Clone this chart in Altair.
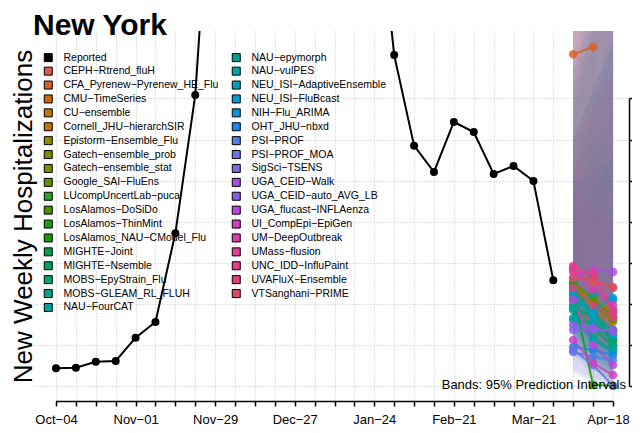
import altair as alt
import pandas as pd

# ---------------- data ----------------
rep_dates = [
    "2025-10-04", "2025-10-11", "2025-10-18", "2025-10-25", "2025-11-01", "2025-11-08",
    "2025-11-15", "2025-11-22", "2025-11-29", "2025-12-06", "2025-12-13", "2025-12-20",
    "2025-12-27", "2026-01-03", "2026-01-10", "2026-01-17", "2026-01-24", "2026-01-31",
    "2026-02-07", "2026-02-14", "2026-02-21", "2026-02-28", "2026-03-07", "2026-03-14",
    "2026-03-21", "2026-03-28",
]
rep_values = [
    218, 225, 298, 307, 590, 781, 1860, 3542, 7150, 9800, 12500, 14800,
    15200, 13600, 11200, 8900, 6350, 4029, 2926, 2606, 3214, 3092, 2581, 2679,
    2496, 1288,
]
axis_weeks = rep_dates + ["2026-04-04", "2026-04-11", "2026-04-18"]
fc_dates = ["2026-04-04", "2026-04-11", "2026-04-18"]

legend_names = [
    "Reported", "CEPH−Rtrend_fluH", "CFA_Pyrenew−Pyrenew_HE_Flu", "CMU−TimeSeries",
    "CU−ensemble", "Cornell_JHU−hierarchSIR", "Epistorm−Ensemble_Flu",
    "Gatech−ensemble_prob", "Gatech−ensemble_stat", "Google_SAI−FluEns",
    "LUcompUncertLab−puca", "LosAlamos−DoSiDo", "LosAlamos−ThinMint",
    "LosAlamos_NAU−CModel_Flu", "MIGHTE−Joint", "MIGHTE−Nsemble",
    "MOBS−EpyStrain_Flu", "MOBS−GLEAM_RL_FLUH", "NAU−FourCAT",
    "NAU−epymorph", "NAU−vulPES", "NEU_ISI−AdaptiveEnsemble", "NEU_ISI−FluBcast",
    "NIH−Flu_ARIMA", "OHT_JHU−nbxd", "PSI−PROF", "PSI−PROF_MOA", "SigSci−TSENS",
    "UGA_CEID−Walk", "UGA_CEID−auto_AVG_LB", "UGA_flucast−INFLAenza",
    "UI_CompEpi−EpiGen", "UM−DeepOutbreak", "UMass−flusion", "UNC_IDD−InfluPaint",
    "UVAFluX−Ensemble", "VTSanghani−PRIME",
]
legend_colors = [
    "#000000", "#D9594C", "#D9622B", "#CC6A00", "#B97A00", "#BF7300", "#8F8B00",
    "#7A8B00", "#6E9100", "#5F9400", "#2EA02E", "#4C9100", "#1E9E1E", "#1A9A00",
    "#00A050", "#00A060", "#00A377", "#00A389", "#00A3A0",
    "#00A08C", "#00A2A6", "#00A0BA", "#009FCB", "#0099DB", "#1A86E8", "#4F7FE8",
    "#6B72E8", "#8463E8", "#A64FE0", "#8B5CE6", "#B848D8", "#D23FC0", "#D93CAC",
    "#DE3E9C", "#E0408A", "#DB4475", "#D94C62",
]

median = {
    "CEPH−Rtrend_fluH": [1438, 1268, 1207],
    "CFA_Pyrenew−Pyrenew_HE_Flu": [4038, 4126],
    "CMU−TimeSeries": [1231, 1049, 903],
    "CU−ensemble": [1170, 988, 830],
    "Cornell_JHU−hierarchSIR": [1110, 927, 781],
    "Epistorm−Ensemble_Flu": [1255, 1049, 927],
    "Gatech−ensemble_prob": [1195, 903, 684],
    "Gatech−ensemble_stat": [1146, 830, 623],
    "Google_SAI−FluEns": [1207, 988, 805],
    "LUcompUncertLab−puca": [1049, 684, 501],
    "LosAlamos−DoSiDo": [1255, 1073, 830],
    "LosAlamos−ThinMint": [1268, 805, 562],
    "LosAlamos_NAU−CModel_Flu": [1110, 15, 5],
    "MIGHTE−Joint": [1049, 927, 562],
    "MIGHTE−Nsemble": [988, 830, 586],
    "MOBS−EpyStrain_Flu": [951, 866, 501],
    "MOBS−GLEAM_RL_FLUH": [927, 586, 440],
    "NAU−FourCAT": [951, 1134, 1049],
    "NAU−epymorph": [830, 745, 465],
    "NAU−vulPES": [805, 562, 416],
    "NEU_ISI−AdaptiveEnsemble": [1049, 866, 684],
    "NEU_ISI−FluBcast": [1170, 805, 623],
    "NIH−Flu_ARIMA": [1110, 927, 1073],
    "OHT_JHU−nbxd": [477, 440, 380],
    "PSI−PROF": [416, 355, 319],
    "PSI−PROF_MOA": [440, 258, 5],
    "SigSci−TSENS": [684, 684, 684],
    "UGA_CEID−Walk": [1316, 1414, 1389],
    "UGA_CEID−auto_AVG_LB": [745, 708, 660],
    "UGA_flucast−INFLAenza": [1049, 501, 258],
    "UI_CompEpi−EpiGen": [562, 282, 136],
    "UM−DeepOutbreak": [1414, 1170, 988],
    "UMass−flusion": [1389, 1389, 927],
    "UNC_IDD−InfluPaint": [1462, 1353, 891],
    "UVAFluX−Ensemble": [1195, 988, 842],
    "VTSanghani−PRIME": [1316, 1292, 1195],
}
lower = {
    "CEPH−Rtrend_fluH": [900, 700, 550],
    "CFA_Pyrenew−Pyrenew_HE_Flu": [2900, 2700],
    "CMU−TimeSeries": [800, 550, 400],
    "CU−ensemble": [700, 480, 330],
    "Cornell_JHU−hierarchSIR": [650, 420, 300],
    "Epistorm−Ensemble_Flu": [850, 600, 450],
    "Gatech−ensemble_prob": [750, 450, 250],
    "Gatech−ensemble_stat": [700, 400, 200],
    "Google_SAI−FluEns": [800, 550, 350],
    "LUcompUncertLab−puca": [500, 200, 50],
    "LosAlamos−DoSiDo": [800, 550, 350],
    "LosAlamos−ThinMint": [700, 300, 100],
    "LosAlamos_NAU−CModel_Flu": [600, 0, 0],
    "MIGHTE−Joint": [600, 400, 150],
    "MIGHTE−Nsemble": [550, 350, 150],
    "MOBS−EpyStrain_Flu": [550, 350, 100],
    "MOBS−GLEAM_RL_FLUH": [500, 200, 80],
    "NAU−FourCAT": [500, 500, 350],
    "NAU−epymorph": [400, 250, 100],
    "NAU−vulPES": [400, 200, 80],
    "NEU_ISI−AdaptiveEnsemble": [650, 400, 250],
    "NEU_ISI−FluBcast": [700, 350, 200],
    "NIH−Flu_ARIMA": [600, 350, 250],
    "OHT_JHU−nbxd": [200, 100, 50],
    "PSI−PROF": [150, 80, 30],
    "PSI−PROF_MOA": [150, 40, 0],
    "SigSci−TSENS": [300, 200, 150],
    "UGA_CEID−Walk": [700, 600, 500],
    "UGA_CEID−auto_AVG_LB": [350, 250, 150],
    "UGA_flucast−INFLAenza": [600, 200, 50],
    "UI_CompEpi−EpiGen": [200, 50, 0],
    "UM−DeepOutbreak": [900, 600, 400],
    "UMass−flusion": [900, 750, 400],
    "UNC_IDD−InfluPaint": [900, 700, 350],
    "UVAFluX−Ensemble": [750, 500, 350],
    "VTSanghani−PRIME": [850, 700, 550],
}
upper = {
    "CEPH−Rtrend_fluH": [4400, 5200, 6000],
    "CFA_Pyrenew−Pyrenew_HE_Flu": [5600, 6200],
    "CMU−TimeSeries": [2600, 3000, 3400],
    "CU−ensemble": [3000, 3600, 4200],
    "Cornell_JHU−hierarchSIR": [2800, 3400, 4000],
    "Epistorm−Ensemble_Flu": [4500, 5000, 5600],
    "Gatech−ensemble_prob": [2500, 2800, 3000],
    "Gatech−ensemble_stat": [2400, 2600, 2800],
    "Google_SAI−FluEns": [3600, 4400, 5200],
    "LUcompUncertLab−puca": [3000, 3600, 4400],
    "LosAlamos−DoSiDo": [4600, 5400, 6200],
    "LosAlamos−ThinMint": [3800, 4600, 5400],
    "LosAlamos_NAU−CModel_Flu": [2200, 1200, 900],
    "MIGHTE−Joint": [3600, 4400, 5200],
    "MIGHTE−Nsemble": [2600, 3200, 3800],
    "MOBS−EpyStrain_Flu": [3400, 4200, 5000],
    "MOBS−GLEAM_RL_FLUH": [2400, 2600, 2800],
    "NAU−FourCAT": [3800, 4800, 5600],
    "NAU−epymorph": [2400, 2800, 3200],
    "NAU−vulPES": [2000, 2400, 2800],
    "NEU_ISI−AdaptiveEnsemble": [3000, 3600, 4200],
    "NEU_ISI−FluBcast": [4400, 5000, 5600],
    "NIH−Flu_ARIMA": [4000, 5000, 6000],
    "OHT_JHU−nbxd": [2600, 3400, 4200],
    "PSI−PROF": [4400, 5400, 6400],
    "PSI−PROF_MOA": [3000, 3600, 4200],
    "SigSci−TSENS": [3400, 4400, 5400],
    "UGA_CEID−Walk": [4600, 5200, 5800],
    "UGA_CEID−auto_AVG_LB": [3800, 4600, 5400],
    "UGA_flucast−INFLAenza": [2800, 2600, 2400],
    "UI_CompEpi−EpiGen": [2400, 2200, 2000],
    "UM−DeepOutbreak": [4400, 5000, 5600],
    "UMass−flusion": [4800, 5600, 6400],
    "UNC_IDD−InfluPaint": [4600, 5400, 6200],
    "UVAFluX−Ensemble": [3000, 3400, 3800],
    "VTSanghani−PRIME": [4400, 5200, 6000],
}
y_ticks = [0, 500, 1000, 1500, 2000, 2500, 3000, 3500]

# ---------------- tables ----------------
df_rep = pd.DataFrame({"date": rep_dates, "value": rep_values})
rows = []
for m, vals in median.items():
    for i, v in enumerate(vals):
        rows.append({"model": m, "date": fc_dates[i], "median": v,
                     "lower": lower[m][i], "upper": upper[m][i]})
df_fc = pd.DataFrame(rows)


def ms(d):
    return int(pd.Timestamp(d, tz="UTC").value // 10**6)


W, H = 595, 370
x0 = ms(axis_weeks[0])
x1 = ms(axis_weeks[-1])
span = (x1 - x0) / 557.0
xscale = alt.Scale(type="utc", domain=[x0 - 22 * span, x1 + 16 * span])
yscale = alt.Scale(domain=[-180, 4321], nice=False, zero=False)

GRID = "#c4c4c4"
FONT = "Liberation Sans"

color_legend = alt.Legend(
    orient="none", legendX=9, legendY=21, columns=2, title=None,
    symbolType="square", symbolSize=64, symbolStrokeColor="black",
    symbolStrokeWidth=1, symbolOpacity=1, labelFontSize=10.5, labelColor="black",
    labelFont=FONT, labelOffset=10, rowPadding=0.9, columnPadding=11,
    padding=0, labelLimit=400, symbolLimit=100,
)
cscale = alt.Scale(domain=legend_names, range=legend_colors)

label_expr = (
    "round((datum.value - utc(2025,9,4)) / 604800000) % 4 == 0 ? "
    "utcFormat(datum.value, '%b') + '\u2212' + utcFormat(datum.value, '%d') : ''"
)
x_axis = alt.Axis(
    values=[ms(d) for d in axis_weeks], labelExpr=label_expr, grid=True,
    gridDash=[1, 2], gridColor=GRID, gridWidth=1, domain=False, ticks=True,
    tickSize=5, tickColor="black", tickWidth=1.5, labelFontSize=13,
    labelColor="black", labelFont=FONT, labelPadding=7, labelOverlap=False,
    labelFlush=False, title=None,
    labelOffset={"condition": {"test": f"datum.value >= {x1}", "value": -5}, "value": 0},
)
y_left = alt.Axis(
    orient="left", title="New Weekly Hospitalizations", grid=False, domain=False,
    ticks=False, labels=False, titleFontSize=26, titleFontWeight="normal",
    titleColor="black", titleFont=FONT, titleX=-2.2, titleY=H / 2, titleAngle=270,
    titleAlign="center", titleBaseline="alphabetic",
)
y_right = alt.Axis(
    orient="right", values=y_ticks, grid=True, gridDash=[1, 2], gridColor=GRID,
    gridWidth=1, domain=False, ticks=True, tickSize=6, tickColor="black",
    tickWidth=1.5, labels=False, title=None,
)

bands = alt.Chart(df_fc).mark_area(opacity=0.065, clip=True).encode(
    x=alt.X("date:T", scale=xscale, axis=None),
    y=alt.Y("lower:Q", scale=yscale, axis=None),
    y2="upper:Q",
    color=alt.Color("model:N", scale=cscale, legend=None),
)
rep_line = alt.Chart(df_rep).mark_line(color="black", strokeWidth=2, clip=True).encode(
    x=alt.X("date:T", scale=xscale, axis=x_axis),
    y=alt.Y("value:Q", scale=yscale, axis=y_left),
)
rep_pts = alt.Chart(df_rep).mark_circle(color="black", size=64, opacity=1, clip=True).encode(
    x=alt.X("date:T", scale=xscale, axis=None),
    y=alt.Y("value:Q", scale=yscale, axis=None),
)
fc_lines = alt.Chart(df_fc).mark_line(strokeWidth=2, opacity=0.85, clip=True).encode(
    x=alt.X("date:T", scale=xscale, axis=None),
    y=alt.Y("median:Q", scale=yscale, axis=None),
    color=alt.Color("model:N", scale=cscale, legend=None),
)
fc_pts = alt.Chart(df_fc).mark_circle(size=75, opacity=0.85, clip=True).encode(
    x=alt.X("date:T", scale=xscale, axis=None),
    y=alt.Y("median:Q", scale=yscale, axis=y_right),
    color=alt.Color("model:N", scale=cscale, legend=color_legend),
)

xline = alt.Chart(pd.DataFrame({"s": [axis_weeks[0]], "e": [axis_weeks[-1]]})).mark_rule(
    color="black", strokeWidth=1.5).encode(
    x=alt.X("s:T", scale=xscale, axis=None), x2="e:T", y=alt.value(H + 0.5))
yline = alt.Chart(pd.DataFrame({"lo": [y_ticks[0]], "hi": [y_ticks[-1]]})).mark_rule(
    color="black", strokeWidth=1.5).encode(
    y=alt.Y("lo:Q", scale=yscale, axis=None), y2="hi:Q", x=alt.value(W + 0.5))

title = alt.Chart(pd.DataFrame({"t": ["New York"]})).mark_text(
    align="left", baseline="alphabetic", fontSize=30, fontWeight="bold",
    font=FONT, color="black").encode(text="t:N", x=alt.value(-1), y=alt.value(4.3))
note = alt.Chart(pd.DataFrame({"t": ["Bands: 95% Prediction Intervals"]})).mark_text(
    align="right", baseline="alphabetic", fontSize=13, font=FONT, color="black").encode(
    text="t:N", x=alt.value(W - 3), y=alt.value(358.3))

chart = alt.layer(
    bands, rep_line, rep_pts, fc_lines, fc_pts, xline, yline, title, note
).resolve_axis(x="independent", y="independent").resolve_legend(
    color="independent"
).properties(
    width=W, height=H,
    autosize=alt.AutoSizeParams(type="none"),
    padding={"left": 26, "top": 23, "right": 3, "bottom": 24},
).configure(font=FONT).configure_view(stroke=None)

chart.save("out.html", embed_options={"renderer": "svg", "actions": False})
